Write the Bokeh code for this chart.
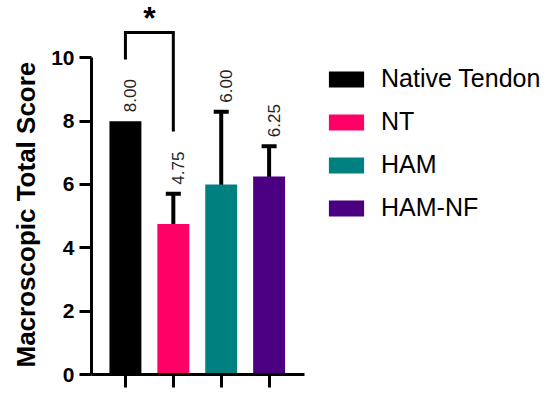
import math
from bokeh.plotting import figure
from bokeh.models import (Range1d, ColumnDataSource, Whisker, TeeHead, FixedTicker,
                          Legend, LegendItem, Title)
from bokeh.core.properties import value
from bokeh.embed import file_html
from bokeh.resources import INLINE

# ---- data ----
groups = ["Native Tendon", "NT", "HAM", "HAM-NF"]
means = [8.00, 4.75, 6.00, 6.25]
sds = [0.0, 0.96, 2.30, 0.96]
value_labels = ["8.00", "4.75", "6.00", "6.25"]
colors = ["#000000", "#FF0066", "#008080", "#4B0082"]
y_ticks = [0, 2, 4, 6, 8, 10]
bracket_x = [0, 0, 1, 1]
bracket_y = [9.95, 10.8, 10.8, 7.67]
star_text = "*"
star_y = 11.27
y_axis_title = "Macroscopic Total Score"

# ---- layout ----
W, H = 550, 396
FL, FB = 90, 22
frame_h = H - FB
ppu_y = 31.67
y_end = frame_h / ppu_y
step = 48.0
bar0 = 124.0
x_start = -(bar0 - FL) / step
x_end = (W - bar0) / step
xs = list(range(len(groups)))

FONT = "Liberation Sans"

p = figure(width=W, height=H, x_range=Range1d(x_start, x_end), y_range=Range1d(0, y_end),
           min_border_left=FL, min_border_bottom=FB, min_border_top=0, min_border_right=0,
           output_backend="svg", toolbar_location=None)
p.outline_line_color = None
p.grid.visible = False
p.background_fill_color = "white"

# y axis
ya = p.yaxis[0]
ya.ticker = FixedTicker(ticks=y_ticks)
ya.bounds = (0, 10)
ya.axis_line_width = 3
ya.major_tick_line_width = 3
ya.major_tick_out = 12
ya.major_tick_in = 0
ya.minor_tick_out = 0
ya.minor_tick_in = 0
ya.major_label_standoff = 5
ya.major_label_text_font = FONT
ya.major_label_text_font_style = "bold"
ya.major_label_text_font_size = "21px"
ya.major_label_text_color = "black"

# axis title, starting near the bottom of the axis
p.add_layout(Title(text=y_axis_title, align="left", offset=7, standoff=16,
                   text_font=FONT, text_font_style="bold", text_font_size="26px",
                   text_color="black"), "left")

# x axis
xa = p.xaxis[0]
xa.ticker = FixedTicker(ticks=xs)
xa.bounds = (x_start, 3.73)
xa.axis_line_width = 3
xa.major_tick_line_width = 3
xa.major_tick_out = 13
xa.major_tick_in = 0
xa.minor_tick_out = 0
xa.minor_tick_in = 0
xa.major_label_overrides = {i: "" for i in xs}
xa.major_label_standoff = 0

src = ColumnDataSource(dict(x=xs, top=means, color=colors, group=groups))
bars = p.vbar(x="x", top="top", width=0.667, bottom=0, fill_color="color",
              line_color=None, source=src)

# error bars (not for Native Tendon)
ex = [x for x, s in zip(xs, sds) if s > 0]
eu = [m + s for m, s in zip(means, sds) if s > 0]
el = [m - s for m, s in zip(means, sds) if s > 0]
esrc = ColumnDataSource(dict(base=ex, upper=eu, lower=el))
w = Whisker(base="base", upper="upper", lower="lower", source=esrc,
            line_width=4, line_color="black",
            upper_head=TeeHead(size=15, line_width=4, line_color="black"),
            lower_head=TeeHead(size=15, line_width=4, line_color="black"))
p.add_layout(w)

# value labels (rotated)
tops = [m + s for m, s in zip(means, sds)]
lx = [x + 4.5 / step for x in xs]
ly = [t + 9.0 / ppu_y for t in tops]
p.text(x=lx, y=ly, text=value_labels, angle=math.pi / 2, text_align="left",
       text_baseline="middle", text_font=value(FONT), text_font_size="17px",
       text_color="#222222")

# significance bracket
p.line(x=bracket_x, y=bracket_y, line_width=3, line_color="black", line_join="miter")
p.text(x=[(bracket_x[0] + bracket_x[-1]) / 2], y=[star_y], text=[star_text],
       text_align="center", text_baseline="middle", text_font=value(FONT),
       text_font_style="bold", text_font_size="32px", text_color="black")

# legend
items = [LegendItem(label=g, renderers=[bars], index=i) for i, g in enumerate(groups)]
leg = Legend(items=items, location=(233, 152), padding=0, margin=0, spacing=14,
             glyph_width=44, glyph_height=20, label_height=20, label_standoff=13,
             label_text_font=FONT, label_text_font_size="25px", label_text_color="black",
             border_line_color=None, background_fill_alpha=0)
p.add_layout(leg)

open("out.html", "w").write(file_html(p, INLINE))
